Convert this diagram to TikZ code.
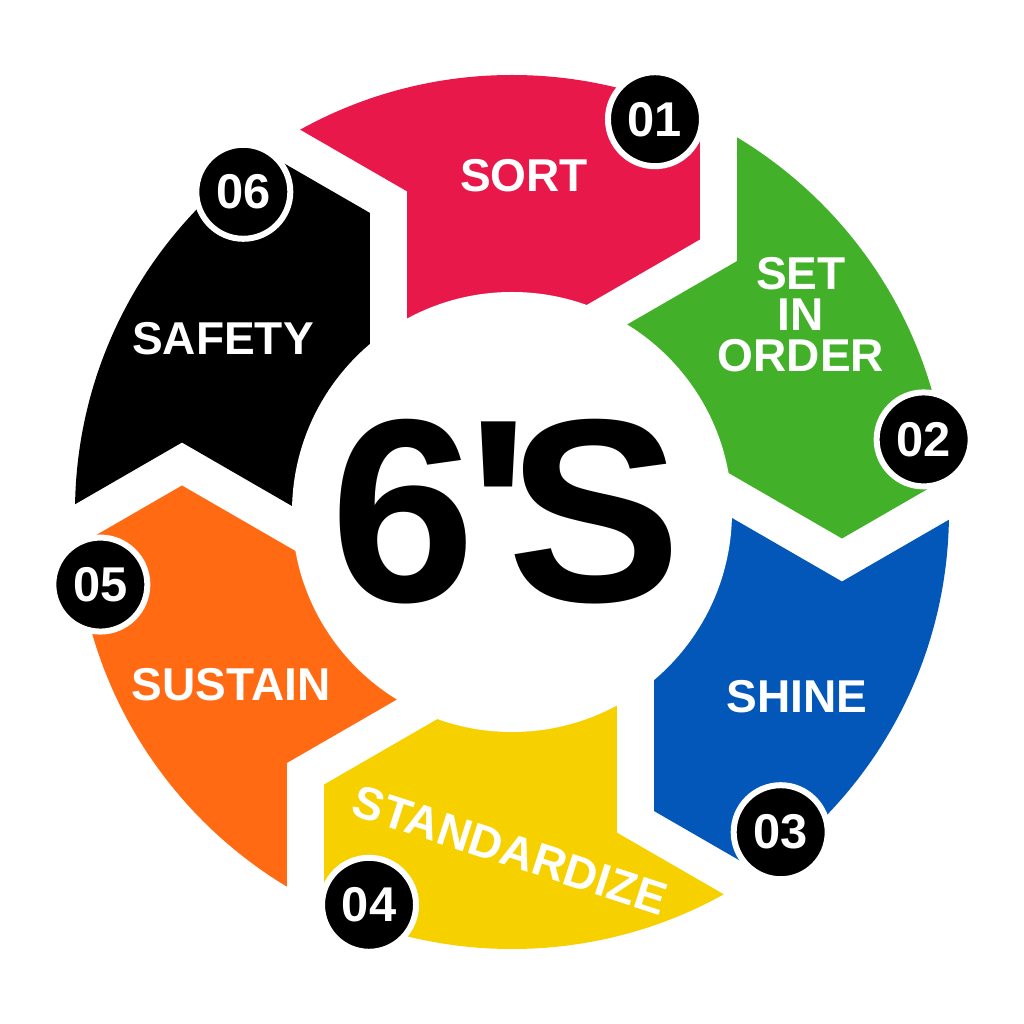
\documentclass[tikz,border=0pt]{standalone}
\usepackage{fontspec}
\setmainfont{Liberation Sans}
\newfontfamily\bigfont{Liberation Sans}[Ligatures=TeXOff]
\usepackage{tikz}
\usetikzlibrary{positioning}
\definecolor{sortred}{HTML}{E8194A}
\definecolor{ordergreen}{HTML}{43B02A}
\definecolor{shineblue}{HTML}{0257B8}
\definecolor{stdyellow}{HTML}{F7D000}
\definecolor{sustorange}{HTML}{FF6A13}
\begin{document}
\begin{tikzpicture}[x=0.1mm,y=0.1mm,
   badge/.style={circle,fill=black,draw=white,line width=0.6mm,minimum size=9.4mm,
   inner sep=0pt,text=white,font=\fontsize{13.9pt}{14pt}\selectfont\bfseries},
   lbl/.style={text=white,inner sep=0pt,align=center,
   font=\fontsize{13.1pt}{11.7pt}\selectfont\bfseries}]

 \useasboundingbox (-512,-512) rectangle (512,512);
 \begin{scope}
  \clip (0,0) circle (437);
  \foreach \a/\c in {90/sortred,30/ordergreen,-30/shineblue,-90/stdyellow,-150/sustorange,150/black}
  {\begin{scope}[rotate=\a-30]
    \coordinate (li) at (156.8,73.5);
    \coordinate (lt) at (330,-26.5);
    \coordinate (lo) at (503.2,73.5);
   \end{scope}
   \begin{scope}[rotate=\a+30]
    \coordinate (to) at (503.2,30.5);
    \coordinate (tt) at (330,-69.5);
    \coordinate (ti) at (156.8,30.5);
   \end{scope}
   \fill[\c] (li) -- (lt) -- (lo) -- (\a:600) -- (to) -- (tt) -- (ti) -- (0,0) -- cycle;}
 \end{scope}
 \fill[white] (0,0) circle (220);

 \node[font=\bigfont\fontsize{74.3pt}{74pt}\selectfont\bfseries,inner sep=0pt] (six) at (-6,0) {6\kern-0.9mm'\kern-2.2mm S};

 \node[lbl] (sort) at (12,336) {SORT};
 \node[lbl] (order) at (289,197) {SET\\IN\\ORDER};
 \node[lbl] (shine) at (285,-185) {SHINE};
 \node[lbl,rotate=-18] (standard) at (-2,-338) {STANDARDIZE};
 \node[lbl] (sustain) at (-281,-173) {SUSTAIN};
 \node[lbl] (safety) at (-289,173) {SAFETY};

 \foreach \i/\a in {1/70,2/10,3/-50,4/-110,5/-170,6/130}
  \node[badge] (b\i) at (\a:418) {0\i};

\end{tikzpicture}
\end{document}
